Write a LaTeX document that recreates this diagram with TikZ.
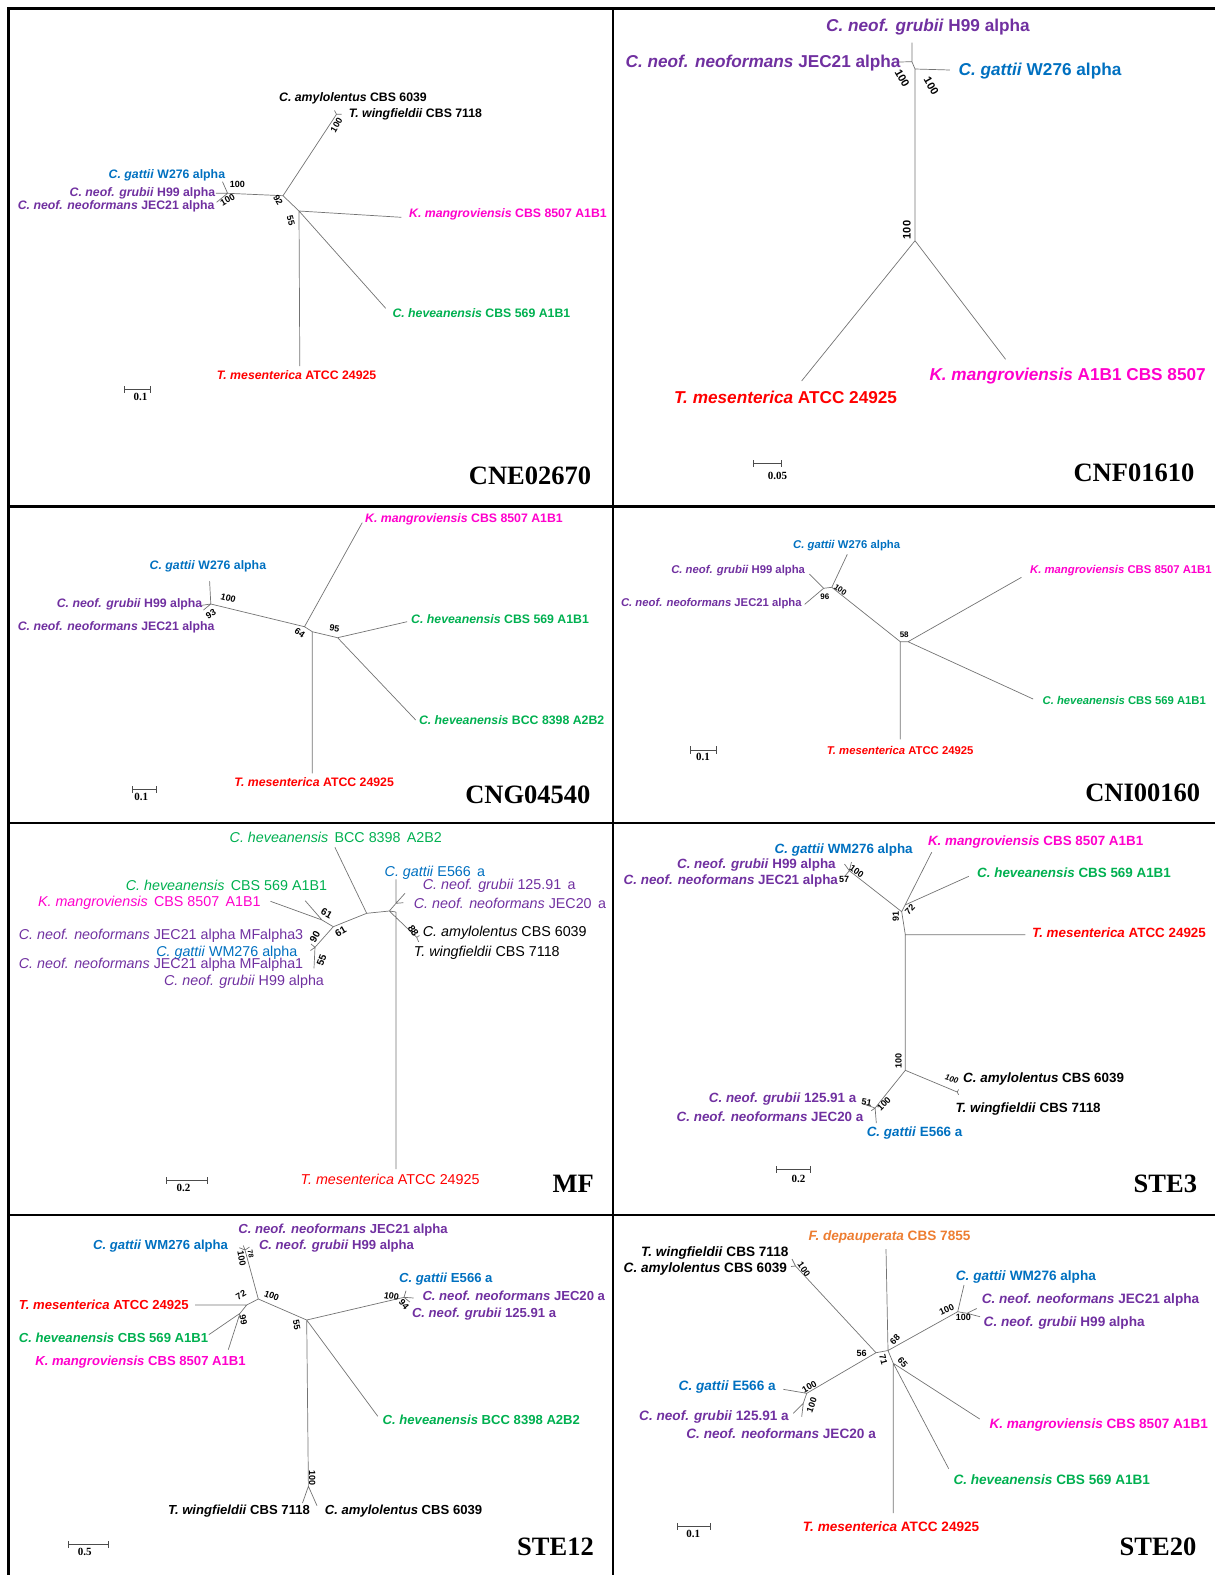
\documentclass[tikz,border=0pt]{standalone}
\usepackage{fontspec}
\setmainfont{Liberation Sans}
\newfontfamily\genefont{Liberation Serif}
\usepackage{tikz}
\usetikzlibrary{arrows,positioning}
\definecolor{cpur}{HTML}{7030A0}
\definecolor{cblu}{HTML}{0070C0}
\definecolor{cmag}{HTML}{FF00CC}
\definecolor{cgrn}{HTML}{00B050}
\definecolor{cred}{HTML}{FF0000}
\definecolor{corg}{HTML}{ED7D31}
\newcommand{\sps}[2]{\textit{#1} #2}

\begin{document}
\begin{tikzpicture}[
  x=1pt, y=-1pt,
  rule/.style={draw, line width=2.2pt},
  br/.style={draw=black!55, line width=0.7pt},
  leaf/.style={anchor=west, inner sep=0pt},
  leafA/.style={leaf, font=\bfseries\fontsize{12.3}{14}\selectfont},
  leafB/.style={leaf, font=\bfseries\fontsize{17.2}{19}\selectfont},
  leafC/.style={leaf, font=\bfseries\fontsize{12.3}{14}\selectfont},
  leafD/.style={leaf, font=\bfseries\fontsize{11.3}{13}\selectfont},
  leafE/.style={leaf, font=\fontsize{14.3}{16}\selectfont},
  leafF/.style={leaf, font=\bfseries\fontsize{13.4}{15}\selectfont},
  leafG/.style={leaf, font=\bfseries\fontsize{13.1}{15}\selectfont},
  leafH/.style={leaf, font=\bfseries\fontsize{13.6}{15}\selectfont},
  bs/.style={inner sep=0pt, font=\bfseries\fontsize{#1}{#1}\selectfont},
  bs/.default=9,
  sbar/.style={draw=black!70, line width=0.8pt, |-|},
  sval/.style={inner sep=0pt, font=\genefont\bfseries\fontsize{11}{11}\selectfont},
  gene/.style={anchor=east, inner sep=0pt, font=\genefont\bfseries\fontsize{26.5}{27}\selectfont}
]
\useasboundingbox (0,0) rectangle (1215,1575);
\draw[rule] (1215,8.5) -- (8.5,8.5) -- (8.5,1575);
\draw[rule] (613,8.5) -- (613,1575);
\draw[rule] (8.5,506.5) -- (1215,506.5);
\draw[rule] (8.5,823) -- (1215,823);
\draw[rule] (8.5,1215) -- (1215,1215);

% CNE02670
\coordinate (e1a) at (227.6,193.3);
\coordinate (e1b) at (283,195.7);
\coordinate (e1c) at (299,211);
\coordinate (e1d) at (336.5,114.3);
\coordinate (e1gat) at (222.5,181.7);
\coordinate (e1gru) at (215.9,193.3);
\coordinate (e1neo) at (216.6,202.3);
\coordinate (e1amy) at (334.5,110.5);
\coordinate (e1win) at (341.5,114.3);
\coordinate (e1man) at (401.3,217.3);
\coordinate (e1hev) at (385.7,308.3);
\coordinate (e1mes) at (299.8,366);
\draw[br] (e1a) -- (e1gat) (e1a) -- (e1gru) (e1a) -- (e1neo) (e1a) -- (e1b)
  (e1b) -- (e1d) (e1d) -- (e1amy) (e1d) -- (e1win) (e1b) -- (e1c)
  (e1c) -- (e1man) (e1c) -- (e1hev) (e1c) -- (e1mes);
\node[leafA] (e1Lamy) at (279,98.7) {\sps{C. amylolentus}{CBS 6039}};
\node[leafA] (e1Lwin) at (348.6,114) {\sps{T. wingfieldii}{CBS 7118}};
\node[leafA, text=cblu] (e1Lgat) at (108.5,175.7) {\sps{C. gattii}{W276 alpha}};
\node[leafA, text=cpur] (e1Lgru) at (69.5,193.3) {\sps{C. neof. grubii}{H99 alpha}};
\node[leafA, text=cpur] (e1Lneo) at (17.6,206) {\sps{C. neof. neoformans}{JEC21 alpha}};
\node[leafA, text=cmag] (e1Lman) at (409,214.3) {\sps{K. mangroviensis}{CBS 8507 A1B1}};
\node[leafA, text=cgrn] (e1Lhev) at (392.3,313.3) {\sps{C. heveanensis}{CBS 569 A1B1}};
\node[leafA, text=cred] (e1Lmes) at (216.6,375) {\sps{T. mesenterica}{ATCC 24925}};
\node[bs, rotate=60] (e1v1) at (336.5,125) {100};
\node[bs] (e1v2) at (237.3,184) {100};
\node[bs, rotate=30] (e1v3) at (227.6,200) {100};
\node[bs, rotate=-60] (e1v4) at (278,200) {92};
\node[bs, rotate=-75] (e1v5) at (290.8,221) {55};
\coordinate (e1s0) at (124.1,389.3);
\coordinate (e1s1) at (151,389.3);
\draw[sbar] (e1s0) -- (e1s1);
\node[sval] (e1sv) at (140.5,397.3) {0.1};
\node[gene] (e1t) at (591.3,476) {CNE02670};

% CNF01610
\coordinate (f1a) at (911.9,61.7);
\coordinate (f1b) at (915,69);
\coordinate (f1c) at (915,240.7);
\coordinate (f1gru) at (911.9,42.7);
\coordinate (f1neo) at (899.1,62);
\coordinate (f1gat) at (949.9,70);
\coordinate (f1mes) at (801.6,381);
\coordinate (f1man) at (1005.6,359.3);
\draw[br] (f1a) -- (f1gru) (f1a) -- (f1neo) (f1a) -- (f1b) (f1b) -- (f1gat)
  (f1b) -- (f1c) (f1c) -- (f1mes) (f1c) -- (f1man);
\node[leafB, text=cpur] (f1Lgru) at (826,26.7) {\sps{C. neof. grubii}{H99 alpha}};
\node[leafB, text=cpur] (f1Lneo) at (625.4,63.3) {\sps{C. neof. neoformans}{JEC21 alpha}};
\node[leafB, text=cblu] (f1Lgat) at (958.4,70.7) {\sps{C. gattii}{W276 alpha}};
\node[leafB, text=cred] (f1Lmes) at (673.8,397.3) {\sps{T. mesenterica}{ATCC 24925}};
\node[leafB, text=cmag] (f1Lman) at (929.3,376) {\sps{K. mangroviensis}{A1B1 CBS 8507}};
\node[bs=11, rotate=-60] (f1v1) at (902.2,78.3) {100};
\node[bs=11, rotate=-60] (f1v2) at (931.3,86) {100};
\node[bs=11, rotate=90] (f1v3) at (906.9,230) {100};
\coordinate (f1s0) at (753.2,463.3);
\coordinate (f1s1) at (781.4,463.3);
\draw[sbar] (f1s0) -- (f1s1);
\node[sval] (f1sv) at (777.6,476) {0.05};
\node[gene] (f1t) at (1194.5,473.3) {CNF01610};

% CNG04540
\coordinate (g1a) at (210.8,604);
\coordinate (g1b) at (304.5,626.7);
\coordinate (g1c) at (312.3,631.7);
\coordinate (g1d) at (337.6,637.7);
\coordinate (g1gat) at (209.6,581);
\coordinate (g1gru) at (200.5,605.5);
\coordinate (g1neo) at (203.5,610);
\coordinate (g1man) at (362.2,522.7);
\coordinate (g1mes) at (312.3,773.3);
\coordinate (g1hvA) at (407.1,621.7);
\coordinate (g1hvB) at (415.7,720);
\draw[br] (g1a) -- (g1gat) (g1a) -- (g1gru) (g1a) -- (g1neo) (g1a) -- (g1b)
  (g1b) -- (g1man) (g1b) -- (g1c) (g1c) -- (g1mes) (g1c) -- (g1d)
  (g1d) -- (g1hvA) (g1d) -- (g1hvB);
\node[leafC, text=cmag] (g1Lman) at (365,519.3) {\sps{K. mangroviensis}{CBS 8507 A1B1}};
\node[leafC, text=cblu] (g1Lgat) at (149.5,566) {\sps{C. gattii}{W276 alpha}};
\node[leafC, text=cpur] (g1Lgru) at (56.6,604.3) {\sps{C. neof. grubii}{H99 alpha}};
\node[leafC, text=cpur] (g1Lneo) at (17.6,627.3) {\sps{C. neof. neoformans}{JEC21 alpha}};
\node[leafC, text=cgrn] (g1LhvA) at (411,619.3) {\sps{C. heveanensis}{CBS 569 A1B1}};
\node[leafC, text=cgrn] (g1LhvB) at (418.8,720) {\sps{C. heveanensis}{BCC 8398 A2B2}};
\node[leafC, text=cred] (g1Lmes) at (234.2,782.3) {\sps{T. mesenterica}{ATCC 24925}};
\node[bs, rotate=-15] (g1v1) at (228.3,598.3) {100};
\node[bs, rotate=30] (g1v2) at (210.8,614.3) {93};
\node[bs, rotate=-35] (g1v3) at (299.8,632.7) {64};
\node[bs, rotate=-10] (g1v4) at (334.5,628.3) {95};
\coordinate (g1s0) at (131.9,789.3);
\coordinate (g1s1) at (156.9,789.3);
\draw[sbar] (g1s0) -- (g1s1);
\node[sval] (g1sv) at (141.3,796.7) {0.1};
\node[gene] (g1t) at (590.6,795) {CNG04540};

% CNI00160
\coordinate (i1a) at (823.6,588.3);
\coordinate (i1b) at (831.8,587.3);
\coordinate (i1c) at (900.3,641.7);
\coordinate (i1d) at (908,641.7);
\coordinate (i1gru) at (809.3,574);
\coordinate (i1neo) at (804.7,604.3);
\coordinate (i1gat) at (847.3,554.3);
\coordinate (i1man) at (1021.5,577.3);
\coordinate (i1hev) at (1033.1,699);
\coordinate (i1mes) at (900.3,739.3);
\draw[br] (i1a) -- (i1gru) (i1a) -- (i1neo) (i1a) -- (i1b) (i1b) -- (i1gat)
  (i1b) -- (i1c) (i1c) -- (i1d) (i1d) -- (i1man) (i1d) -- (i1hev) (i1c) -- (i1mes);
\node[leafD, text=cblu] (i1Lgat) at (793,545.7) {\sps{C. gattii}{W276 alpha}};
\node[leafD, text=cpur] (i1Lgru) at (671.1,571) {\sps{C. neof. grubii}{H99 alpha}};
\node[leafD, text=cpur] (i1Lneo) at (620.8,604) {\sps{C. neof. neoformans}{JEC21 alpha}};
\node[leafD, text=cmag] (i1Lman) at (1030,571) {\sps{K. mangroviensis}{CBS 8507 A1B1}};
\node[leafD, text=cgrn] (i1Lhev) at (1042.4,700) {\sps{C. heveanensis}{CBS 569 A1B1}};
\node[leafD, text=cred] (i1Lmes) at (826.7,750.7) {\sps{T. mesenterica}{ATCC 24925}};
\node[bs=8] (i1v1) at (824.8,596.7) {96};
\node[bs=8, rotate=-35] (i1v2) at (840.3,590) {100};
\node[bs=8] (i1v3) at (904.2,634.3) {58};
\coordinate (i1s0) at (690.1,750);
\coordinate (i1s1) at (716.4,750);
\draw[sbar] (i1s0) -- (i1s1);
\node[sval] (i1sv) at (702.9,756.7) {0.1};
\node[gene] (i1t) at (1200.3,793.3) {CNI00160};

% MF
\coordinate (m1r) at (389.3,911);
\coordinate (m1q) at (396,912);
\coordinate (m1m) at (366.7,913.3);
\coordinate (m1l) at (333.3,926.7);
\coordinate (m1k) at (322,920);
\coordinate (m1n) at (315,947.3);
\coordinate (m1e) at (396,903.3);
\coordinate (m1f) at (416.7,937.3);
\coordinate (m1bcc) at (334.9,847.3);
\coordinate (m1man) at (270.5,901.3);
\coordinate (m1hev) at (305.2,900.7);
\coordinate (m1al3) at (311,944);
\coordinate (m1wm) at (310.5,950.5);
\coordinate (m1al1) at (314,968.3);
\coordinate (m1gat) at (396,879.3);
\coordinate (m1g125) at (405,893.3);
\coordinate (m1j20) at (403.3,902.7);
\coordinate (m1amy) at (419.5,935.5);
\coordinate (m1win) at (418.7,942);
\coordinate (m1mes) at (396,1169);
\draw[br] (m1r) -- (m1q) (m1q) -- (m1mes) (m1r) -- (m1m) (m1m) -- (m1bcc)
  (m1m) -- (m1l) (m1l) -- (m1k) (m1k) -- (m1man) (m1k) -- (m1hev)
  (m1l) -- (m1n) (m1n) -- (m1al3) (m1n) -- (m1wm) (m1n) -- (m1al1)
  (m1r) -- (m1e) (m1e) -- (m1gat) (m1e) -- (m1g125) (m1e) -- (m1j20)
  (m1r) -- (m1f) (m1f) -- (m1amy) (m1f) -- (m1win);
\node[leafE, text=cgrn] (m1Lbcc) at (229.5,837) {\sps{C. heveanensis}{\,BCC 8398\, A2B2}};
\node[leafE, text=cblu] (m1Lgat) at (384.5,872.3) {\sps{C. gattii}{E566\, a}};
\node[leafE, text=cgrn] (m1Lhev) at (125.7,885.7) {\sps{C. heveanensis}{\,CBS 569 A1B1}};
\node[leafE, text=cpur] (m1Lg125) at (422.7,885.7) {\sps{C. neof. grubii}{125.91\, a}};
\node[leafE, text=cmag] (m1Lman) at (37.9,903) {\sps{K. mangroviensis}{\,CBS 8507\, A1B1}};
\node[leafE, text=cpur] (m1Lj20) at (413.7,903) {\sps{C. neof. neoformans}{JEC20\, a}};
\node[leafE, text=cpur] (m1Lal3) at (18.7,935.3) {\sps{C. neof. neoformans}{JEC21 alpha MFalpha3}};
\node[leafE] (m1Lamy) at (422.7,932.3) {\sps{C. amylolentus}{CBS 6039}};
\node[leafE, text=cblu] (m1Lwm) at (156.1,952.3) {\sps{C. gattii}{WM276 alpha}};
\node[leafE] (m1Lwin) at (413.7,953) {\sps{T. wingfieldii}{CBS 7118}};
\node[leafE, text=cpur] (m1Lal1) at (18.7,964.7) {\sps{C. neof. neoformans}{JEC21 alpha MFalpha1}};
\node[leafE, text=cpur] (m1Lh99) at (163.9,981.3) {\sps{C. neof. grubii}{H99 alpha}};
\node[leafE, text=cred] (m1Lmes) at (300.5,1179) {\sps{T. mesenterica}{ATCC 24925}};
\node[bs=10, rotate=-30] (m1v1) at (326.7,913.3) {61};
\node[bs=10, rotate=30] (m1v2) at (340.7,931.7) {61};
\node[bs=10, rotate=60] (m1v3) at (315,936.7) {90};
\node[bs=10, rotate=70] (m1v4) at (321.7,960) {55};
\node[bs=10, rotate=-55] (m1v5) at (413.3,930.7) {88};
\coordinate (m1s0) at (165.9,1180.7);
\coordinate (m1s1) at (208,1180.7);
\draw[sbar] (m1s0) -- (m1s1);
\node[sval] (m1sv) at (183.5,1188) {0.2};
\node[gene] (m1t) at (594,1184) {MF};

% STE3
\coordinate (s3q) at (849.3,870.7);
\coordinate (s3t) at (901.7,911.7);
\coordinate (s3k) at (905,905);
\coordinate (s3u) at (905.3,934.7);
\coordinate (s3v) at (905.3,1070.3);
\coordinate (s3w) at (957.2,1092);
\coordinate (s3x) at (875.1,1108);
\coordinate (s3gru) at (844.5,864);
\coordinate (s3gat) at (851.5,862);
\coordinate (s3neo) at (845,876);
\coordinate (s3man) at (931.7,852.3);
\coordinate (s3hev) at (968.8,876.3);
\coordinate (s3mes) at (1025.3,934.7);
\coordinate (s3amy) at (958.6,1089.5);
\coordinate (s3win) at (958.6,1094.7);
\coordinate (s3g125) at (863.5,1104);
\coordinate (s3j20) at (871.3,1110.7);
\coordinate (s3gE) at (876.3,1123);
\draw[br] (s3q) -- (s3gru) (s3q) -- (s3gat) (s3q) -- (s3neo) (s3q) -- (s3t)
  (s3t) -- (s3k) (s3k) -- (s3man) (s3k) -- (s3hev) (s3t) -- (s3u)
  (s3u) -- (s3mes) (s3u) -- (s3v) (s3v) -- (s3w) (s3w) -- (s3amy) (s3w) -- (s3win)
  (s3v) -- (s3x) (s3x) -- (s3g125) (s3x) -- (s3j20) (s3x) -- (s3gE);
\node[leafF, text=cblu] (s3Lgat) at (774.5,849.7) {\sps{C. gattii}{WM276 alpha}};
\node[leafF, text=cmag] (s3Lman) at (927.8,842.3) {\sps{K. mangroviensis}{CBS 8507 A1B1}};
\node[leafF, text=cpur] (s3Lgru) at (676.9,865.3) {\sps{C. neof. grubii}{H99 alpha}};
\node[leafF, text=cpur] (s3Lneo) at (623.5,881.3) {\sps{C. neof. neoformans}{JEC21 alpha}};
\node[leafF, text=cgrn] (s3Lhev) at (977,873) {\sps{C. heveanensis}{CBS 569 A1B1}};
\node[leafF, text=cred] (s3Lmes) at (1031.9,933) {\sps{T. mesenterica}{ATCC 24925}};
\node[leafF] (s3Lamy) at (963,1078.7) {\sps{C. amylolentus}{CBS 6039}};
\node[leafF] (s3Lwin) at (955.3,1109) {\sps{T. wingfieldii}{CBS 7118}};
\node[leafF, text=cpur] (s3Lg125) at (708.7,1098.7) {\sps{C. neof. grubii}{125.91 a}};
\node[leafF, text=cpur] (s3Lj20) at (676.5,1117) {\sps{C. neof. neoformans}{JEC20 a}};
\node[leafF, text=cblu] (s3LgE) at (866.6,1133) {\sps{C. gattii}{E566 a}};
\node[bs, rotate=-35] (s3v1) at (856.7,871.7) {100};
\node[bs] (s3v2) at (844,879.3) {57};
\node[bs, rotate=90] (s3v3) at (895.7,916.7) {91};
\node[bs, rotate=45] (s3v4) at (910,909.3) {72};
\node[bs, rotate=90] (s3v5) at (898.4,1061.3) {100};
\node[bs=8, rotate=-15] (s3v6) at (951.8,1079) {\textit{100}};
\node[bs, rotate=-10] (s3v7) at (866.6,1102) {51};
\node[bs, rotate=45] (s3v8) at (884,1104) {100};
\coordinate (s3s0) at (775.6,1169.7);
\coordinate (s3s1) at (810.5,1169.7);
\draw[sbar] (s3s0) -- (s3s1);
\node[sval] (s3sv) at (798.5,1178.7) {0.2};
\node[gene] (s3t) at (1197.2,1184) {STE3};

% STE12
\coordinate (s12p) at (245,1250);
\coordinate (s12t) at (258.3,1299);
\coordinate (s12o) at (246.7,1305);
\coordinate (s12h) at (240,1313.3);
\coordinate (s12c) at (306.7,1320);
\coordinate (s12a) at (404,1297.3);
\coordinate (s12b) at (308.4,1486.3);
\coordinate (s12wm) at (239.3,1247.7);
\coordinate (s12j21) at (243.3,1245.5);
\coordinate (s12h99) at (249.5,1247);
\coordinate (s12mes) at (195,1305);
\coordinate (s12hev) at (208.8,1334.7);
\coordinate (s12man) at (228.3,1349.7);
\coordinate (s12gE) at (406,1290.7);
\coordinate (s12j20) at (413.7,1298);
\coordinate (s12g125) at (409.8,1302);
\coordinate (s12bcc) at (377.8,1416.3);
\coordinate (s12win) at (302.5,1503);
\coordinate (s12amy) at (317,1505.7);
\draw[br] (s12p) -- (s12wm) (s12p) -- (s12j21) (s12p) -- (s12h99) (s12p) -- (s12t)
  (s12t) -- (s12o) (s12o) -- (s12mes) (s12o) -- (s12h) (s12h) -- (s12hev) (s12h) -- (s12man)
  (s12t) -- (s12c) (s12c) -- (s12a) (s12a) -- (s12gE) (s12a) -- (s12j20) (s12a) -- (s12g125)
  (s12c) -- (s12bcc) (s12c) -- (s12b) (s12b) -- (s12win) (s12b) -- (s12amy);
\node[leafG, text=cpur] (s12Lj21) at (238.1,1230.3) {\sps{C. neof. neoformans}{JEC21 alpha}};
\node[leafG, text=cblu] (s12Lwm) at (92.9,1246.3) {\sps{C. gattii}{WM276 alpha}};
\node[leafG, text=cpur] (s12Lh99) at (258.8,1246.3) {\sps{C. neof. grubii}{H99 alpha}};
\node[leafG, text=cblu] (s12LgE) at (398.9,1279) {\sps{C. gattii}{E566 a}};
\node[leafG, text=cpur] (s12Lj20) at (422.3,1295.7) {\sps{C. neof. neoformans}{JEC20 a}};
\node[leafG, text=cred] (s12Lmes) at (18.7,1304.7) {\sps{T. mesenterica}{ATCC 24925}};
\node[leafG, text=cpur] (s12Lg125) at (411.8,1313.7) {\sps{C. neof. grubii}{125.91 a}};
\node[leafG, text=cgrn] (s12Lhev) at (18.7,1337.3) {\sps{C. heveanensis}{CBS 569 A1B1}};
\node[leafG, text=cmag] (s12Lman) at (35.1,1362) {\sps{K. mangroviensis}{CBS 8507 A1B1}};
\node[leafG, text=cgrn] (s12Lbcc) at (382.5,1419.7) {\sps{C. heveanensis}{BCC 8398 A2B2}};
\node[leafG] (s12Lwin) at (167.8,1511.3) {\sps{T. wingfieldii}{CBS 7118}};
\node[leafG] (s12Lamy) at (324.7,1511.3) {\sps{C. amylolentus}{CBS 6039}};
\node[bs, rotate=-80] (s12v1) at (241.7,1258.3) {100};
\node[bs=7, rotate=-80] (s12v2) at (250.7,1254.3) {78};
\node[bs, rotate=30] (s12v3) at (241,1295) {72};
\node[bs, rotate=-20] (s12v4) at (271.7,1295.7) {100};
\node[bs, rotate=-80] (s12v5) at (243.3,1320) {99};
\node[bs, rotate=-80] (s12v6) at (296.7,1325) {55};
\node[bs, rotate=-10] (s12v7) at (391.5,1296.3) {100};
\node[bs, rotate=-50] (s12v8) at (404,1304.7) {94};
\node[bs, rotate=-90] (s12v9) at (312.3,1478) {100};
\coordinate (s12s0) at (67.5,1544.7);
\coordinate (s12s1) at (108.5,1544.7);
\draw[sbar] (s12s0) -- (s12s1);
\node[sval] (s12sv) at (84.7,1552.3) {0.5};
\node[gene] (s12t) at (594,1547.3) {STE12};

% STE20
\coordinate (s20w) at (795.5,1266);
\coordinate (s20n) at (876,1352.7);
\coordinate (s20m) at (888,1350.5);
\coordinate (s20r) at (893.3,1363.3);
\coordinate (s20al) at (957.7,1311.7);
\coordinate (s20sb) at (967,1313.3);
\coordinate (s20a) at (806.7,1393.3);
\coordinate (s20ab) at (803.3,1403.3);
\coordinate (s20win) at (792,1259);
\coordinate (s20amy) at (791,1266.5);
\coordinate (s20dep) at (886,1249);
\coordinate (s20wm) at (964,1285);
\coordinate (s20j21) at (976.7,1308.5);
\coordinate (s20h99) at (980,1316.7);
\coordinate (s20gE) at (783.3,1389.3);
\coordinate (s20g125) at (793.3,1413.3);
\coordinate (s20j20) at (801.7,1416.7);
\coordinate (s20man) at (979.7,1419);
\coordinate (s20hev) at (948.7,1468.7);
\coordinate (s20mes) at (893.3,1513);
\draw[br] (s20w) -- (s20win) (s20w) -- (s20amy) (s20w) -- (s20n) (s20n) -- (s20m)
  (s20m) -- (s20dep) (s20m) -- (s20al) (s20al) -- (s20wm) (s20al) -- (s20sb)
  (s20sb) -- (s20j21) (s20sb) -- (s20h99) (s20m) -- (s20r) (s20r) -- (s20mes)
  (s20r) -- (s20man) (s20r) -- (s20hev) (s20n) -- (s20a) (s20a) -- (s20gE)
  (s20a) -- (s20ab) (s20ab) -- (s20g125) (s20ab) -- (s20j20);
\node[leafH, text=corg] (s20Ldep) at (808.5,1237.3) {\sps{F. depauperata}{CBS 7855}};
\node[leafH] (s20Lwin) at (640.9,1253) {\sps{T. wingfieldii}{CBS 7118}};
\node[leafH] (s20Lamy) at (623.5,1268.7) {\sps{C. amylolentus}{CBS 6039}};
\node[leafH, text=cblu] (s20Lwm) at (955.7,1277) {\sps{C. gattii}{WM276 alpha}};
\node[leafH, text=cpur] (s20Lj21) at (981.6,1299.7) {\sps{C. neof. neoformans}{JEC21 alpha}};
\node[leafH, text=cpur] (s20Lh99) at (983.5,1323) {\sps{C. neof. grubii}{H99 alpha}};
\node[leafH, text=cblu] (s20LgE) at (678.5,1387.3) {\sps{C. gattii}{E566 a}};
\node[leafH, text=cpur] (s20Lg125) at (639,1417) {\sps{C. neof. grubii}{125.91 a}};
\node[leafH, text=cpur] (s20Lj20) at (686.2,1433.7) {\sps{C. neof. neoformans}{JEC20 a}};
\node[leafH, text=cmag] (s20Lman) at (989.3,1424.7) {\sps{K. mangroviensis}{CBS 8507 A1B1}};
\node[leafH, text=cgrn] (s20Lhev) at (953.3,1479.7) {\sps{C. heveanensis}{CBS 569 A1B1}};
\node[leafH, text=cred] (s20Lmes) at (802.7,1527) {\sps{T. mesenterica}{ATCC 24925}};
\node[bs, rotate=-55] (s20v1) at (804,1269.3) {100};
\node[bs, rotate=25] (s20v2) at (946.7,1309.3) {100};
\node[bs] (s20v3) at (963.3,1317.3) {100};
\node[bs] (s20v4) at (861.7,1353.3) {56};
\node[bs, rotate=45] (s20v5) at (895,1339.3) {68};
\node[bs, rotate=-75] (s20v6) at (883.3,1359.3) {71};
\node[bs, rotate=-50] (s20v7) at (902.7,1362.7) {65};
\node[bs, rotate=30] (s20v8) at (809.3,1386.7) {100};
\node[bs, rotate=70] (s20v9) at (811.7,1405) {100};
\coordinate (s20s0) at (676.9,1526.3);
\coordinate (s20s1) at (710.6,1526.3);
\draw[sbar] (s20s0) -- (s20s1);
\node[sval] (s20sv) at (693.2,1534) {0.1};
\node[gene] (s20t) at (1196.5,1546.3) {STE20};
\end{tikzpicture}
\end{document}
